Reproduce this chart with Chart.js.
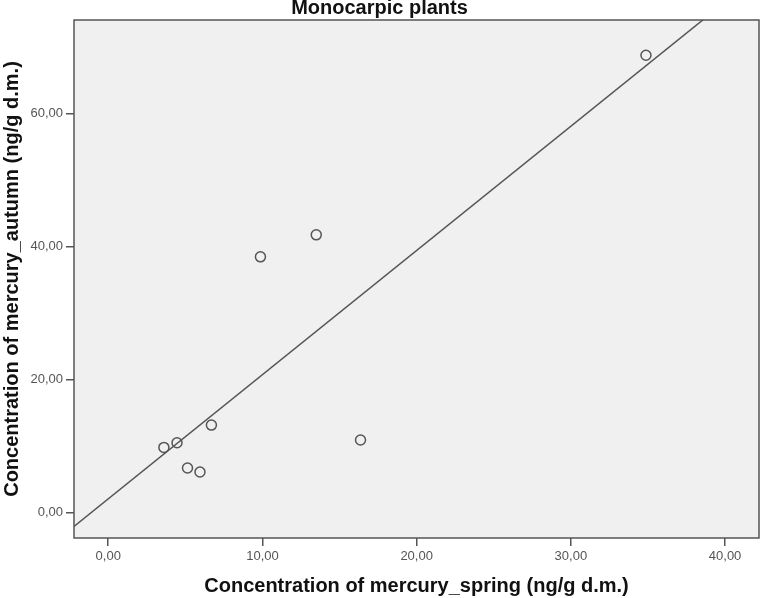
<!DOCTYPE html>
<html>
<head>
<meta charset="utf-8">
<script src="https://cdn.jsdelivr.net/npm/chart.js@4.4.1/dist/chart.umd.min.js"></script>
<style>
  html, body { margin: 0; padding: 0; background: #fff; }
  #wrap { width: 761px; height: 598px; }
</style>
</head>
<body>
<div id="wrap"><canvas id="scatter"></canvas></div>
<script>
// mercury concentration, spring vs autumn (ng/g d.m.)
var springHg = [3.61, 4.46, 5.14, 5.95, 6.69, 9.87, 13.49, 16.36, 34.87];
var autumnHg = [9.77, 10.47, 6.67, 6.07, 13.13, 38.42, 41.73, 10.88, 68.73];
var xTicks = [0, 10, 20, 30, 40];
var yTicks = [0, 20, 40, 60];
var xRange = [-2.22, 42.2];
var yRange = [-3.85, 74.03];

// least squares fit line
function fitLine(xs, ys) {
    var n = xs.length, mx = 0, my = 0;
    for (var i = 0; i < n; i++) { mx += xs[i]; my += ys[i]; }
    mx /= n; my /= n;
    var sxx = 0, sxy = 0;
    for (var i = 0; i < n; i++) {
        sxx += (xs[i] - mx) * (xs[i] - mx);
        sxy += (xs[i] - mx) * (ys[i] - my);
    }
    var b = sxy / sxx;
    return { a: my - b * mx, b: b };
}

document.addEventListener("DOMContentLoaded", function () {
    var fit = fitLine(springHg, autumnHg);
    var pts = springHg.map(function (v, i) { return { x: v, y: autumnHg[i] }; });
    var linePts = xRange.map(function (v) { return { x: v, y: fit.a + fit.b * v }; });

    var font = "Arial, 'Liberation Sans', sans-serif";
    var fmt = function (v) { return Number(v).toFixed(2).replace(".", ","); };

    var plotFrame = {
        id: "plotFrame",
        beforeDatasetsDraw: function (chart) {
            var a = chart.chartArea, c = chart.ctx;
            c.save();
            c.fillStyle = "#f0f0f0";
            c.fillRect(a.left, a.top, a.right - a.left, a.bottom - a.top);
            c.restore();
        },
        afterDatasetsDraw: function (chart) {
            var a = chart.chartArea, c = chart.ctx;
            c.save();
            c.strokeStyle = "#555";
            c.lineWidth = 1.5;
            c.strokeRect(a.left, a.top, a.right - a.left, a.bottom - a.top);
            c.restore();
        }
    };

    var ctx = document.getElementById("scatter").getContext("2d");
    var chart = new Chart(ctx, {
        type: "scatter",
        data: {
            datasets: [{
                label: "points",
                data: pts,
                pointRadius: 5,
                pointBorderWidth: 1.5,
                pointBorderColor: "#555",
                pointBackgroundColor: "rgba(0,0,0,0)"
            }, {
                type: "line",
                label: "fit",
                data: linePts,
                borderColor: "#555",
                borderWidth: 1.5,
                pointRadius: 0,
                fill: false,
                clip: 0
            }]
        },
        options: {
            responsive: true,
            maintainAspectRatio: false,
            animation: false,
            layout: { autoPadding: false, padding: { left: 0, right: 2, top: 0, bottom: 0 } },
            plugins: {
                legend: { display: false },
                tooltip: { enabled: false },
                title: {
                    display: true,
                    text: "Monocarpic plants",
                    color: "#111",
                    font: { family: font, size: 20, weight: "bold", lineHeight: 1.0 },
                    padding: { top: -2, bottom: 2 }
                }
            },
            scales: {
                x: {
                    type: "linear",
                    min: xRange[0],
                    max: xRange[1],
                    afterBuildTicks: function (s) { s.ticks = xTicks.map(function (v) { return { value: v }; }); },
                    afterFit: function (s) { s.height = 60; s.paddingLeft = 0; s.paddingRight = 0; },
                    border: { display: false },
                    grid: { drawOnChartArea: false, drawTicks: true, tickLength: 8, tickColor: "#555", lineWidth: 1.5 },
                    ticks: { color: "#555", padding: 3, maxRotation: 0, font: { family: font, size: 13 }, callback: fmt },
                    title: {
                        display: true,
                        text: "Concentration of mercury_spring (ng/g d.m.)",
                        color: "#111",
                        font: { family: font, size: 20, weight: "bold", lineHeight: 1.2 },
                        padding: { top: 0, bottom: 0 }
                    }
                },
                y: {
                    type: "linear",
                    min: yRange[0],
                    max: yRange[1],
                    afterBuildTicks: function (s) { s.ticks = yTicks.map(function (v) { return { value: v }; }); },
                    afterFit: function (s) { s.width = 74; s.paddingTop = 0; s.paddingBottom = 0; },
                    border: { display: false },
                    grid: { drawOnChartArea: false, drawTicks: true, tickLength: 8, tickColor: "#555", lineWidth: 1.5 },
                    ticks: { color: "#555", padding: 3, font: { family: font, size: 13 }, callback: fmt },
                    title: {
                        display: true,
                        text: "Concentration of mercury_autumn (ng/g d.m.)",
                        color: "#111",
                        font: { family: font, size: 20, weight: "bold", lineHeight: 1.2 },
                        padding: { top: 0, bottom: 0 }
                    }
                }
            }
        },
        plugins: [plotFrame]
    });
});
</script>
</body>
</html>
